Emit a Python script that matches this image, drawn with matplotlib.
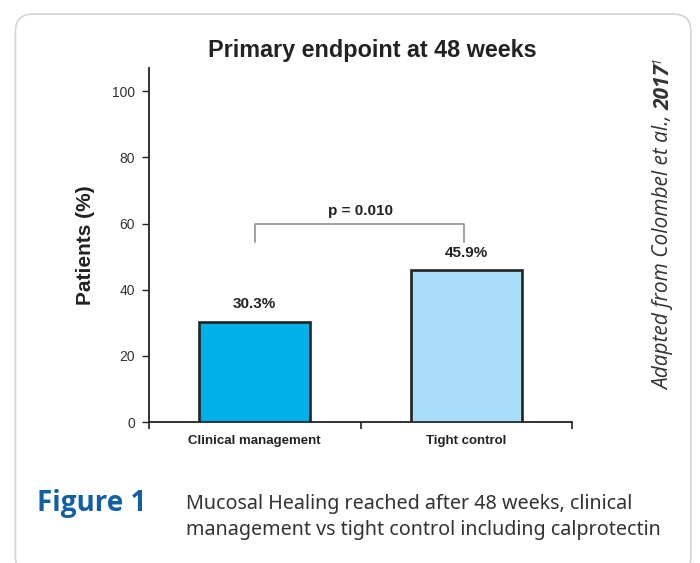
import matplotlib
matplotlib.use("Agg")
import matplotlib.pyplot as plt
from matplotlib.patches import FancyBboxPatch

# data
groups = ["Clinical management", "Tight control"]
values = [30.3, 45.9]
value_labels = ["30.3%", "45.9%"]
bar_colors = ["#00b1e9", "#a7ddf6"]
p_text = "p = 0.010"
p_bracket = [60, 54.5]   # top of bracket, bottom of its legs
y_ticks = [0, 20, 40, 60, 80, 100]

fig = plt.figure(figsize=(7, 5.63), dpi=100)

# rounded frame around the whole figure
frame = FancyBboxPatch((0.022, -0.02), 0.965, 0.995, transform=fig.transFigure,
                       boxstyle="round,pad=0,rounding_size=0.025",
                       facecolor="none", edgecolor="#d4d4d4", linewidth=1.2,
                       mutation_aspect=700 / 563, zorder=-1)
fig.patches.append(frame)

ax = fig.add_axes([0.2129, 0.2504, 0.6043, 0.6288])
ax.patch.set_alpha(0)
x = list(range(len(groups)))
ax.bar(x, values, width=0.525, color=bar_colors, edgecolor="#222222", linewidth=1.9, zorder=3)
ax.set_xlim(-0.5, 1.5)
ax.set_ylim(0, 107)

for s in ["top", "right"]:
    ax.spines[s].set_visible(False)
for s in ["left", "bottom"]:
    ax.spines[s].set_color("#222222")
    ax.spines[s].set_linewidth(1.3)

ax.set_yticks(y_ticks)
ax.set_yticklabels([str(v) for v in y_ticks], fontsize=10, color="#333333", family="Liberation Sans")
ax.tick_params(axis="y", length=5, width=1, color="#222222", pad=5)

ax.set_xticks(x)
ax.set_xticklabels(groups, fontsize=9.5, fontweight="bold", color="#222222",
                   family="Liberation Sans")
ax.tick_params(axis="x", length=0, pad=9)
ax.set_xticks([-0.5, 0.5, 1.5], minor=True)
ax.tick_params(axis="x", which="minor", length=5, width=1.2, color="#222222")

for xi, v, lab in zip(x, values, value_labels):
    ax.text(xi, v + 3.2, lab, ha="center", va="bottom", fontsize=11, fontweight="bold",
            color="#222222", family="Liberation Sans")

# significance bracket
ax.plot([0, 0, 0.99, 0.99], [p_bracket[1], p_bracket[0], p_bracket[0], p_bracket[1]],
        color="#888888", linewidth=1.1, clip_on=False)
ax.text(0.5, p_bracket[0] + 1.6, p_text, ha="center", va="bottom", fontsize=11,
        fontweight="bold", color="#222222", family="Liberation Sans")

ax.set_ylabel("Patients (%)", fontsize=15, fontweight="bold", family="Liberation Sans",
              color="#222222", labelpad=12)
fig.text(0.532, 1 - 50 / 563, "Primary endpoint at 48 weeks", ha="center", va="center",
         fontsize=16.8, fontweight="bold", family="Liberation Sans", color="#222222")

# rotated source note
fig.canvas.draw()
r = fig.canvas.get_renderer()
xn = 664 / 700
t1 = fig.text(xn, 1 - 390 / 563, "Adapted from Colombel et al., ", rotation=90,
              rotation_mode="anchor", ha="left", va="center", fontsize=15,
              style="italic", family="Open Sans", color="#333333")
bb = t1.get_window_extent(r)
t2 = fig.text(xn, bb.y1 / 563, "2017", rotation=90, rotation_mode="anchor",
              ha="left", va="center", fontsize=15, style="italic", fontweight="bold",
              family="Open Sans", color="#333333")
bb2 = t2.get_window_extent(r)
fig.text(xn - 7 / 700, bb2.y1 / 563, "1", rotation=90, rotation_mode="anchor",
         ha="left", va="center", fontsize=9, style="italic", family="Open Sans", color="#333333")

# caption
fig.text(37 / 700, 1 - 503 / 563, "Figure 1", ha="left", va="center", fontsize=20,
         fontweight="bold", family="Open Sans", color="#115fa6")
fig.text(186 / 700, 1 - 517 / 563,
         "Mucosal Healing reached after 48 weeks, clinical\nmanagement vs tight control including calprotectin",
         ha="left", va="center", fontsize=14.2, family="Noto Sans", color="#333333",
         linespacing=1.38)

fig.savefig("out.png", dpi=100)
